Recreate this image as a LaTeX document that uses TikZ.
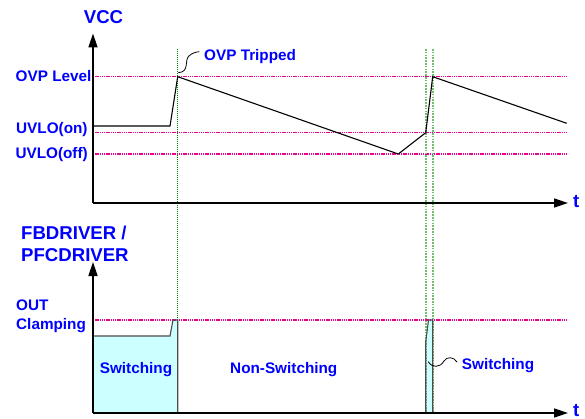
\documentclass[tikz,border=0pt]{standalone}
\usepackage{fontspec}
\setmainfont{Liberation Sans}
\usetikzlibrary{arrows.meta}
\definecolor{swcyan}{RGB}{204,255,255}
\definecolor{trgreen}{RGB}{110,190,110}

\begin{document}
\begin{tikzpicture}[x=1pt,y=-1pt,>={Triangle[length=14pt,width=9pt]},line cap=butt,
  lbl/.style={text=blue,inner sep=0pt,font=\fontsize{15.3}{18}\selectfont\bfseries},
  head/.style={text=blue,inner sep=0pt,font=\fontsize{18.6}{21}\selectfont\bfseries},
  level/.style={magenta,line width=1.1pt,dash pattern=on 1.3pt off 0.9pt},
  trip/.style={trgreen,line width=1.6pt,dash pattern=on 1.6pt off 1.2pt},
  axis/.style={line width=1.6pt,->},
  wave/.style={line width=1.1pt}]
\useasboundingbox (0,0) rectangle (585,419);
% switching areas
\fill[swcyan] (93,413) -- (93,336) -- (170,336) -- (173,320) -- (177.7,320) -- (177.7,413) -- cycle;
\fill[swcyan] (425.7,413) -- (425.7,342) -- (428.5,320) -- (432.7,320) -- (432.7,413) -- cycle;
% levels
\draw[level] (93,76.7) -- (568,76.7);
\draw[level] (93,132.7) -- (568,132.7);
\draw[level] (93,154) -- (568,154);
\draw[level] (93,320) -- (568,320);
% OVP trip markers
\draw[green!50!black,line width=0.9pt,dash pattern=on 1pt off 1pt] (177.7,49) -- (177.7,413);
\draw[trip] (425.7,49) -- (425.7,413);
\draw[trip] (432.7,49) -- (432.7,413);
% VCC waveform
\draw[wave] (93,126) -- (170,126) -- (177.7,76.7) -- (398.3,154) -- (425.7,132.7) -- (432.7,76.7) -- (566.7,123.3);
% driver outputs
\draw[gray!60!black,line width=1.1pt] (93,336) -- (170,336) -- (173,320) -- (177.7,320) -- (177.7,413);
\draw[gray!60!black,line width=1.1pt] (425.7,413) -- (425.7,342) -- (428.5,320) -- (432.7,320) -- (432.7,413);
% axes
\draw[axis] (93,203) -- (93,33.5);
\draw[axis] (93,203) -- (568,203);
\draw[axis] (93,413) -- (93,262);
\draw[axis] (93,413) -- (568,413);
% labels
\node[head,anchor=base] (vcc) at (103.5,23.3) {VCC};
\node[head,anchor=base west] (t1) at (573,208) {t};
\node[head,anchor=base west] (t2) at (573,416.5) {t};
\node[lbl,anchor=base west] (ovplvl) at (15.5,81.5) {OVP Level};
\node[lbl,anchor=base west] (uvon) at (16,134) {UVLO(on)};
\node[lbl,anchor=base west] (uvoff) at (15.3,159) {UVLO(off)};
\node[lbl,anchor=base west] (ovptrip) at (204,60.5) {OVP Tripped};
\node[head,anchor=base west] (drv1) at (21,239.3) {FBDRIVER /};
\node[head,anchor=base west] (drv2) at (21,261) {PFCDRIVER};
\node[lbl,anchor=base west] (out1) at (16,310) {OUT};
\node[lbl,anchor=base west] (out2) at (16,329.3) {Clamping};
\node[lbl,anchor=base] (sw1) at (136,373.3) {Switching};
\node[lbl,anchor=base west] (nosw) at (230,373.3) {Non-Switching};
\node[lbl,anchor=base west] (sw2) at (461.7,369.3) {Switching};
% leaders
\draw[line width=0.8pt] (178.3,72.7) .. controls (190,72) and (184,60) .. (189,56) .. controls (192,53) and (196,52) .. (199.3,51.7);
\draw[line width=0.8pt] (428.3,361.7) .. controls (432,368) and (440,368) .. (444,361) .. controls (447,356) and (454,357) .. (457,362);
\end{tikzpicture}
\end{document}
